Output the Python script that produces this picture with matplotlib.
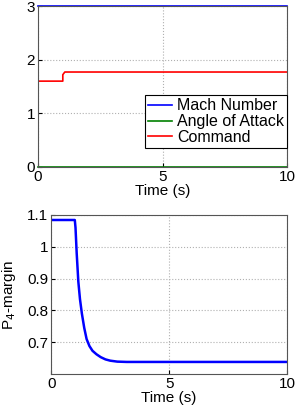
import numpy as np
import matplotlib
matplotlib.use('Agg')
import matplotlib.pyplot as plt

plt.rcParams['font.family'] = ['Liberation Sans', 'DejaVu Sans']

# top panel data
t_top = [0, 10]
mach = [3, 3]
alpha = [0, 0]
t_cmd = [0, 1, 1, 1.08, 10]
cmd = [1.6, 1.6, 1.72, 1.77, 1.77]

# bottom panel data
t_p4 = [0, 1.0, 1.03, 1.08, 1.15, 1.22, 1.3, 1.4, 1.5, 1.62, 1.75, 1.92, 2.1, 2.3, 2.5, 2.8, 3.2, 10]
p4 = [1.084, 1.084, 1.06, 0.98, 0.89, 0.835, 0.79, 0.745, 0.71, 0.688, 0.673, 0.662, 0.653, 0.646, 0.642, 0.639, 0.638, 0.638]

fig = plt.figure(figsize=(2.96, 4.07), dpi=100)
fs = 11

ax1 = fig.add_axes([0.128, 0.590, 0.842, 0.395])
ax1.plot(t_top, mach, color='#0000ff', lw=1.2, label='Mach Number', clip_on=False)
ax1.plot(t_top, alpha, color='#008000', lw=1.2, label='Angle of Attack', clip_on=False)
ax1.plot(t_cmd, cmd, color='#ff0000', lw=1.2, label='Command')
ax1.set_xlim(0, 10)
ax1.set_ylim(0, 3)
ax1.set_xticks([0, 5, 10])
ax1.set_yticks([0, 1, 2, 3])
ax1.grid(True, ls=':', color='#b0b0b0', lw=0.8)
ax1.tick_params(direction='in', labelsize=fs, pad=2, length=3)
ax1.set_xlabel('Time (s)', fontsize=fs, labelpad=0)
leg = ax1.legend(loc='lower right', bbox_to_anchor=(1.0, 0.116), fontsize=11.5, fancybox=False,
                 edgecolor='black', framealpha=1, handlelength=1.5, handletextpad=0.3,
                 borderpad=0.2, labelspacing=0.05, borderaxespad=0)
leg.get_frame().set_linewidth(0.8)

ax2 = fig.add_axes([0.173, 0.081, 0.797, 0.391])
ax2.plot(t_p4, p4, color='#0000ff', lw=1.8)
ax2.set_xlim(0, 10)
ax2.set_ylim(0.6, 1.1)
ax2.set_xticks([0, 5, 10])
ax2.set_yticks([0.7, 0.8, 0.9, 1.0, 1.1])
ax2.set_yticklabels(['0.7', '0.8', '0.9', '1', '1.1'])
ax2.grid(True, ls=':', color='#b0b0b0', lw=0.8)
ax2.tick_params(direction='in', labelsize=fs, pad=2, length=3)
ax2.set_xlabel('Time (s)', fontsize=fs, labelpad=0)
ax2.set_ylabel('P$_4$-margin', fontsize=fs, labelpad=7)

for ax in (ax1, ax2):
    for s in ax.spines.values():
        s.set_color('#555555')
        s.set_linewidth(0.8)

fig.savefig('out.png', dpi=100)
